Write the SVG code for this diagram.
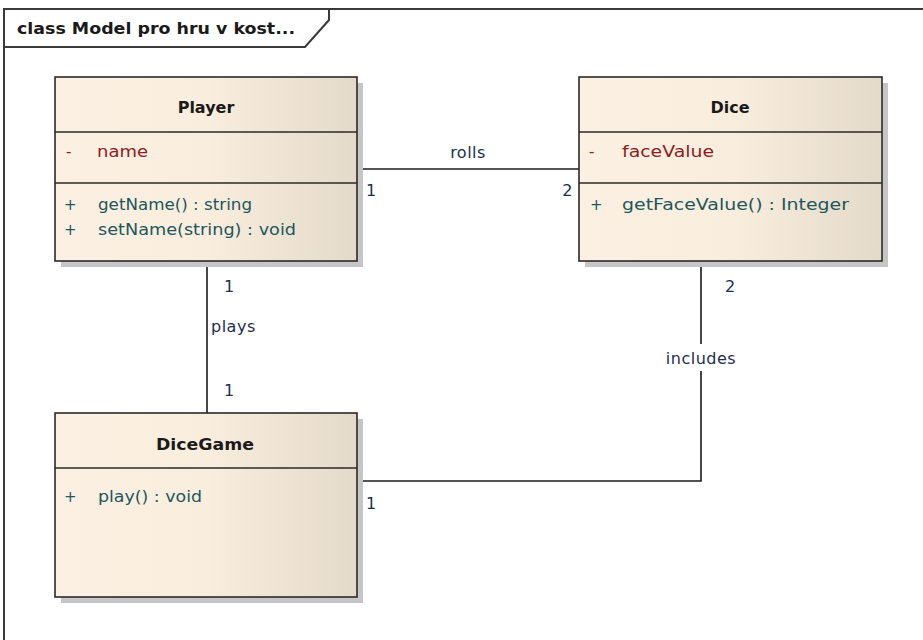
<svg xmlns="http://www.w3.org/2000/svg" width="923" height="640" viewBox="0 0 923 640">
<defs>
<linearGradient id="fill" x1="0" y1="0" x2="1" y2="0">
<stop offset="0" stop-color="#FBF0E1"/>
<stop offset="0.5" stop-color="#F9EEDE"/>
<stop offset="1" stop-color="#E4DACA"/>
</linearGradient>
</defs>
<style>
text{font-family:"DejaVu Sans","Liberation Sans",sans-serif;font-size:15px}
.frame{fill:none;stroke:#3a3a3a;stroke-width:2}
.shadow{fill:#C6C6C6}
.box{fill:url(#fill);stroke:#2a2a2a;stroke-width:1.6}
.sep{stroke:#2a2a2a;stroke-width:1.6}
.name{font-weight:bold;fill:#1a1a1a;text-anchor:middle;font-size:16px}
.attr{fill:#8E1C22}
.op{fill:#23565C}
.lbl{fill:#1E2E4E;font-size:16px;letter-spacing:0.5px}
.conn{fill:none;stroke:#1a1a1a;stroke-width:1.6}
.bg{fill:#ffffff}
</style>
<rect width="923" height="640" fill="#ffffff"/>
<g id="frame">
<path class="frame" d="M4,640 V9 H923"/>
<path class="frame" d="M4,47 H305 L329,20 V9"/>
<text x="17" y="34" font-weight="bold" fill="#1a1a1a" textLength="278" lengthAdjust="spacingAndGlyphs">class Model pro hru v  kost...</text>
</g>
<g id="connectors">
<path class="conn" d="M357,169 H579"/>
<path class="conn" d="M207,261 V413"/>
<path class="conn" d="M701,261 V481 H357"/>
<rect class="bg" x="660" y="344" width="82" height="27"/>
<text class="lbl" x="468" y="158" text-anchor="middle">rolls</text>
<rect class="bg" x="362" y="182" width="14" height="18"/>
<text class="lbl" x="366" y="196">1</text>
<text class="lbl" x="573" y="196" text-anchor="end">2</text>
<text class="lbl" x="224" y="292">1</text>
<text class="lbl" x="211" y="332">plays</text>
<text class="lbl" x="725" y="292">2</text>
<text class="lbl" x="224" y="396">1</text>
<text class="lbl" x="701" y="364" text-anchor="middle">includes</text>
<rect class="bg" x="362" y="494" width="14" height="18"/>
<text class="lbl" x="366" y="509">1</text>
</g>
<g id="Player">
<rect class="shadow" x="61" y="83" width="302" height="184"/>
<rect class="box" x="55" y="77" width="302" height="184"/>
<line class="sep" x1="55" y1="132" x2="357" y2="132"/>
<line class="sep" x1="55" y1="183" x2="357" y2="183"/>
<text class="name" x="206" y="113">Player</text>
<text class="attr" x="66" y="157">-</text>
<text class="attr" x="97" y="157" textLength="51" lengthAdjust="spacingAndGlyphs">name</text>
<text class="op" x="64" y="210">+</text>
<text class="op" x="98" y="210" textLength="154" lengthAdjust="spacingAndGlyphs">getName() : string</text>
<text class="op" x="64" y="235">+</text>
<text class="op" x="98" y="235" textLength="198" lengthAdjust="spacingAndGlyphs">setName(string) : void</text>
</g>
<g id="Dice">
<rect class="shadow" x="585" y="83" width="303" height="184"/>
<rect class="box" x="579" y="77" width="303" height="184"/>
<line class="sep" x1="579" y1="132" x2="882" y2="132"/>
<line class="sep" x1="579" y1="183" x2="882" y2="183"/>
<text class="name" x="730" y="113">Dice</text>
<text class="attr" x="589" y="157">-</text>
<text class="attr" x="622" y="157" textLength="92" lengthAdjust="spacingAndGlyphs">faceValue</text>
<text class="op" x="590" y="210">+</text>
<text class="op" x="622" y="210" textLength="227" lengthAdjust="spacingAndGlyphs">getFaceValue() : Integer</text>
</g>
<g id="DiceGame">
<rect class="shadow" x="61" y="419" width="302" height="184"/>
<rect class="box" x="55" y="413" width="302" height="184"/>
<line class="sep" x1="55" y1="468" x2="357" y2="468"/>
<text class="name" x="205" y="450" textLength="98" lengthAdjust="spacingAndGlyphs">DiceGame</text>
<text class="op" x="64" y="502">+</text>
<text class="op" x="98" y="502" textLength="104" lengthAdjust="spacingAndGlyphs">play() : void</text>
</g>
</svg>
